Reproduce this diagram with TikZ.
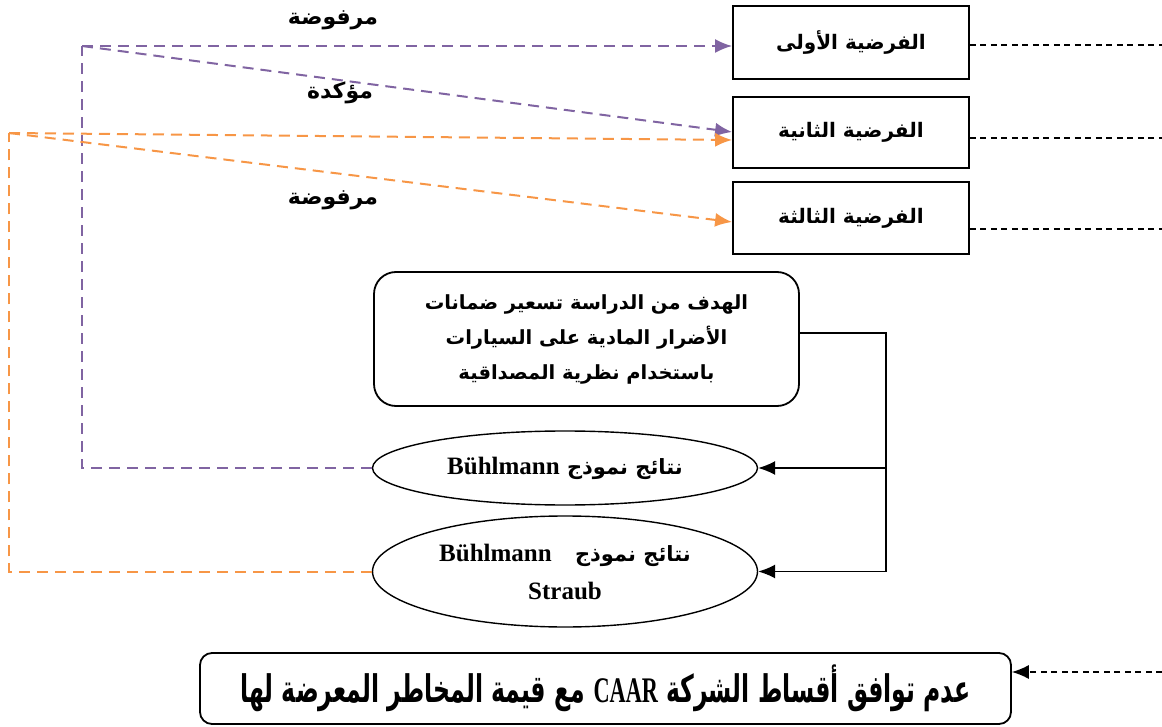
\documentclass[tikz,border=0pt]{standalone}
\usepackage{fontspec}
\setmainfont{Liberation Serif}
\newfontfamily\arabicfont[Script=Arabic]{DejaVu Sans}
\TeXXeTstate=1
\usetikzlibrary{shapes.geometric,arrows.meta}
\definecolor{hpurple}{HTML}{8064A2}
\definecolor{horange}{HTML}{F79646}
% right-to-left Arabic run in bold
\newcommand{\artext}[1]{{\arabicfont\bfseries\beginR #1\endR}}
% embedded Latin word inside an Arabic run, optional size switch first
\newcommand{\latinword}[2][]{\beginL{\rmfamily\bfseries#1#2}\endL}

\begin{document}
\begin{tikzpicture}[x=1pt,y=-1pt,
  hyp/.style={draw, line width=1.8pt, minimum width=236pt, inner sep=0pt, font=\fontsize{20}{24}\selectfont},
  goalbox/.style={draw, line width=1.8pt, rounded corners=22pt, minimum width=425pt, minimum height=134pt, inner sep=0pt, align=center, font=\fontsize{19.5}{35}\selectfont},
  ell/.style={draw, ellipse, line width=1.4pt, minimum width=385pt, inner sep=0pt, align=center, font=\fontsize{21}{38}\selectfont},
  resbox/.style={draw, line width=1.8pt, rounded corners=12pt, minimum width=811pt, minimum height=71pt, inner sep=0pt, font=\fontsize{38}{40}\selectfont},
  lab/.style={inner sep=0pt, font=\fontsize{22}{26}\selectfont},
  pline/.style={draw=hpurple, line width=2pt, dash pattern=on 11pt off 7pt},
  oline/.style={draw=horange, line width=2pt, dash pattern=on 11pt off 7pt},
  bdash/.style={draw=black, line width=1.2pt, dash pattern=on 6pt off 4.5pt},
  conn/.style={draw=black, line width=1.4pt},
  tip/.style={-{Latex[length=17pt,width=14pt]}}
]
\useasboundingbox (0,0) rectangle (1162,727);

% hypotheses
\node[hyp, minimum height=73pt] (h1) at (851,42.5) {\artext{الفرضية الأولى}};
\node[hyp, minimum height=71pt] (h2) at (851,132.5) {\artext{الفرضية الثانية}};
\node[hyp, minimum height=72pt] (h3) at (851,218) {\artext{الفرضية الثالثة}};

% aim of the study
\node[goalbox] (goal) at (586.5,339) {\artext{الهدف من الدراسة تسعير ضمانات}\\
  \artext{الأضرار المادية على السيارات}\\
  \artext{باستخدام نظرية المصداقية}};

% model results
\node[ell, minimum height=74pt] (e1) at (565,468) {\artext{نتائج نموذج \latinword[\fontsize{25}{38}\selectfont]{Bühlmann}}};
\node[ell, minimum height=111pt] (e2) at (565,571.5) {\artext{نتائج نموذج\hspace{16pt} \latinword[\fontsize{25}{38}\selectfont]{Bühlmann}}\\
  {\rmfamily\bfseries\fontsize{25}{38}\selectfont Straub}};

% conclusion (condensed lettering)
\node[resbox] (res) at (605.5,688.5) {\scalebox{0.62}[1]{\artext{عدم توافق أقساط الشركة \latinword[\fontsize{36}{38}\selectfont]{CAAR} مع قيمة المخاطر المعرضة لها}}};

% decision labels
\node[lab] (l1) at (333,20) {\artext{مرفوضة}};
\node[lab] (l2) at (340,93) {\artext{مؤكدة}};
\node[lab] (l3) at (333,200) {\artext{مرفوضة}};

% bus from the aim to both models
\coordinate (j1) at (886,333);
\coordinate (j3) at (886,571.5);
\draw[conn] (goal.east |- j1) -- (j1) -- (j3);
\draw[conn,tip] (j1 |- e1.east) -- (e1.east);
\draw[conn,tip] (j3) -- (e2.east);

% Buhlmann results
\coordinate (pc) at (82,46);
\coordinate (t2p) at (0,132);
\draw[pline] (e1.west) -| (pc);
\draw[pline,tip] (pc) -- (h1.west |- pc);
\draw[pline,tip] (pc) -- (h2.west |- t2p);

% Buhlmann-Straub results
\coordinate (oc) at (9,133);
\coordinate (t2o) at (0,140);
\coordinate (t3o) at (0,222);
\draw[oline] (e2.west) -| (oc);
\draw[oline,tip] (oc) -- (h2.west |- t2o);
\draw[oline,tip] (oc) -- (h3.west |- t3o);

% leads on the right
\coordinate (r1) at (1162,45);
\coordinate (r2) at (1162,138);
\coordinate (r3) at (1162,229);
\coordinate (r4) at (1162,672);
\draw[bdash] (h1.east |- r1) -- (r1);
\draw[bdash] (h2.east |- r2) -- (r2);
\draw[bdash] (h3.east |- r3) -- (r3);
\draw[bdash,tip] (r4) -- (res.east |- r4);
\end{tikzpicture}
\end{document}
